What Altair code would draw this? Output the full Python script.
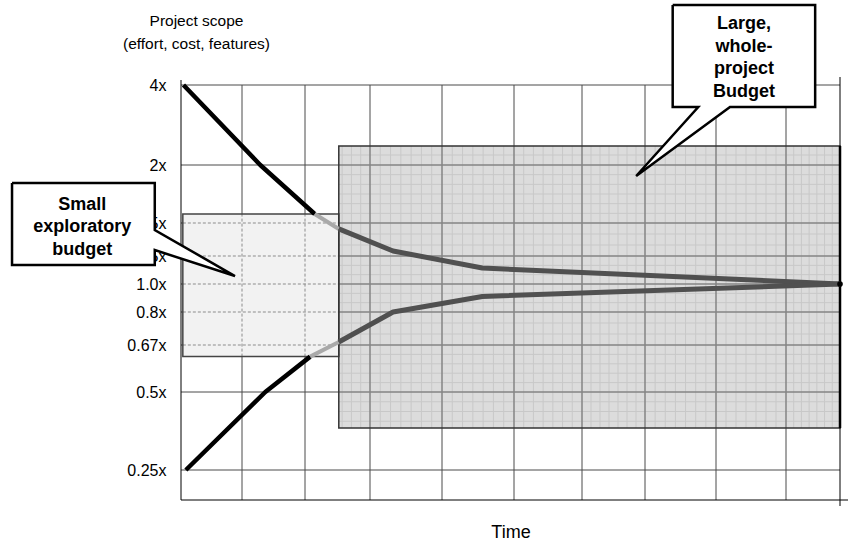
import altair as alt
import pandas as pd

FONT = "Liberation Sans"

# ---------------------------------------------------------------- data
time_steps = list(range(11))
scope_floor = 0.2
scope_ticks = [0.25, 0.5, 0.67, 0.8, 1.0, 1.25, 1.5, 2.0, 4.0]
scope_labels = ["0.25x", "0.5x", "0.67x", "0.8x", "1.0x", "1.25x", "1.5x", "2x", "4x"]

# upper and lower edges of the cone of uncertainty
upper_time = [0.04, 1.29, 2.15, 2.52, 3.32, 4.56, 10.0]
upper_scope = [4.0, 2.0, 1.578, 1.455, 1.288, 1.143, 1.0]
lower_time = [0.08, 1.37, 2.08, 2.52, 3.32, 4.56, 10.0]
lower_scope = [0.25, 0.5, 0.628, 0.682, 0.8, 0.911, 1.0]

# point ranges of each phase along both edges
phase_names = ["early", "exploratory", "project"]
phase_bounds = [(0, 2), (2, 3), (3, 6)]

# budget boxes: time from/to, scope low/high
explore_box = dict(t=0.03, t2=2.52, s=0.628, s2=1.578)
project_box = dict(t=2.52, t2=10.0, s=0.385, s2=2.475)

# callouts: box corners, pointer base and pointer tip (time, scope)
small_note = ["Small", "exploratory", "budget"]
small_box = dict(t=-2.77, t2=-0.43, s=1.17, s2=1.845)
small_base = (1.447, 1.295)          # scope where the pointer leaves the box edge
small_tip = (0.885, 1.071)
small_text_at = (-1.62, 1.467)

large_note = ["Large,", "whole-", "project", "Budget"]
large_box = dict(t=7.39, t2=9.54, s=3.45, s2=6.0)
large_base = (7.75, 8.2)             # time where the pointer leaves the box edge
large_tip = (6.86, 1.905)
large_text_at = (8.4, 4.67)

# ---------------------------------------------------------------- layout
PLOT_W, PLOT_H = 659, 415
# the grid is hand spaced: pixel stop of every time step and scope tick
X_STOPS = [0, 61, 124, 189, 261, 333, 401, 464, 535, 605, 659]
Y_STOPS = [415, 385, 307, 260, 227, 199, 171, 138, 80, 0]
TEXTURE_COLS = 7                          # fine strips per time column
TEXTURE_ROWS = [8, 5, 3, 3, 3, 3, 6, 8]   # fine strips per scope band
NOTE_LINE = 22.5                          # line height of callout text

x_scale = alt.Scale(domain=time_steps, range=X_STOPS, zero=False, nice=False)
y_scale = alt.Scale(domain=[scope_floor] + scope_ticks, range=Y_STOPS,
                    zero=False, nice=False)

label_expr = " : ".join(
    f"datum.value == {v} ? '{l}'" for v, l in zip(scope_ticks, scope_labels)
) + " : ''"

x_axis = alt.Axis(labels=False, ticks=False, domain=False, grid=False,
                  title="Time", titleFont=FONT, titleFontSize=18,
                  titleFontWeight="normal", titleColor="#000",
                  titleBaseline="alphabetic", titleY=37)
y_axis = alt.Axis(values=scope_ticks, labelExpr=label_expr, domain=False,
                  ticks=False, grid=False, labelPadding=15, labelFont=FONT,
                  labelFontSize=16, labelColor="#000", labelOverlap=False,
                  labelFlush=False,
                  title=["Project scope", "(effort, cost, features)"],
                  titleAngle=0, titleAlign="center", titleBaseline="alphabetic",
                  titleX=15, titleY=-60, titleFont=FONT, titleFontSize=15.5,
                  titleFontWeight="normal", titleColor="#000", titleLineHeight=23)


def X():
    return alt.X("t:Q", scale=x_scale, axis=x_axis)


def Y():
    return alt.Y("s:Q", scale=y_scale, axis=y_axis)


def seg_chart(rows, **style):
    return alt.Chart(pd.DataFrame(rows)).mark_rule(**style).encode(
        x=X(), x2="t2:Q", y=Y(), y2="s2:Q")


def vertical(ts, s0, s1):
    return [dict(t=t, t2=t, s=s0, s2=s1) for t in ts]


def horizontal(ss, t0, t1):
    return [dict(t=t0, t2=t1, s=s, s2=s) for s in ss]


def inside(vals, lo, hi):
    return [v for v in vals if lo < v < hi]


def box_rect(box, **style):
    return alt.Chart(pd.DataFrame([box])).mark_rect(**style).encode(
        x=X(), x2="t2:Q", y=Y(), y2="s2:Q")


# ---------------------------------------------------------------- grid
top = scope_ticks[-1]
major_grid = seg_chart(
    vertical(time_steps[1:-1], scope_floor, top)
    + horizontal(scope_ticks, time_steps[0], time_steps[-1]),
    color="#4a4a4a", strokeWidth=1)

explore_fill = box_rect(explore_box, color="#f2f2f2")
explore_grid = seg_chart(
    vertical(inside(time_steps, explore_box["t"], explore_box["t2"]),
             explore_box["s"], explore_box["s2"])
    + horizontal(inside(scope_ticks, explore_box["s"], explore_box["s2"]),
                 explore_box["t"], explore_box["t2"]),
    color="#8c8c8c", strokeWidth=1, strokeDash=[3, 2])

project_fill = box_rect(project_box, color="#dcdcdc")
fine_t = [a + (b - a) * k / TEXTURE_COLS
          for a, b in zip(time_steps[:-1], time_steps[1:])
          for k in range(1, TEXTURE_COLS)]
fine_s = [a + (b - a) * k / n
          for (a, b), n in zip(zip(scope_ticks[:-1], scope_ticks[1:]), TEXTURE_ROWS)
          for k in range(1, n)]
project_texture = seg_chart(
    vertical(inside(fine_t, project_box["t"], project_box["t2"]),
             project_box["s"], project_box["s2"])
    + horizontal(inside(fine_s, project_box["s"], project_box["s2"]),
                 project_box["t"], project_box["t2"]),
    color="#c8c8c8", strokeWidth=1)
project_grid = seg_chart(
    vertical(inside(time_steps, project_box["t"], project_box["t2"]),
             project_box["s"], project_box["s2"])
    + horizontal(inside(scope_ticks, project_box["s"], project_box["s2"]),
                 project_box["t"], project_box["t2"]),
    color="#858585", strokeWidth=1.5)

explore_edge = box_rect(explore_box, fillOpacity=0, stroke="#444", strokeWidth=1.5)
project_edge = box_rect(project_box, fillOpacity=0, stroke="#333", strokeWidth=1.5)

frame = seg_chart(
    vertical([time_steps[0]], scope_floor, 4.125)
    + vertical([time_steps[-1]], 0.19, 4.2)
    + horizontal([scope_floor], time_steps[0], 10.15),
    color="#000", strokeWidth=1)
project_right = seg_chart(
    vertical([project_box["t2"]], project_box["s"], project_box["s2"]),
    color="#000", strokeWidth=2.5)

# ---------------------------------------------------------------- cone
rows = []
for edge, ts, ss in (("upper", upper_time, upper_scope),
                     ("lower", lower_time, lower_scope)):
    for phase, (i0, i1) in zip(phase_names, phase_bounds):
        for i in range(i0, i1 + 1):
            rows.append(dict(edge=edge, phase=phase, i=i, t=ts[i], s=ss[i]))
cone = pd.DataFrame(rows)


def cone_line(phase, **style):
    return alt.Chart(cone).transform_filter(
        alt.datum.phase == phase
    ).mark_line(strokeCap="butt", strokeJoin="round", **style).encode(
        x=X(), y=Y(), detail="edge:N", order="i:Q")


cone_early = cone_line("early", color="#000", strokeWidth=4.5)
cone_explore = cone_line("exploratory", color="#a9a9a9", strokeWidth=4)
cone_project = cone_line("project", color="#505050", strokeWidth=5)
end_dot = alt.Chart(pd.DataFrame([dict(t=upper_time[-1], s=upper_scope[-1])])).mark_circle(
    color="#000", size=32, opacity=1).encode(x=X(), y=Y())


# ---------------------------------------------------------------- callouts
def outline(points):
    pts = points + [points[0]]
    df = pd.DataFrame([dict(k=k, t=t, s=s) for k, (t, s) in enumerate(pts)])
    return alt.Chart(df).mark_line(color="#000", strokeWidth=2.5,
                                   strokeJoin="miter").encode(
        x=X(), y=Y(), order="k:Q")


def note_text(lines, at):
    # the block is centred on its anchor: lift the first line by half the block
    return alt.Chart(pd.DataFrame([dict(t=at[0], s=at[1])])).mark_text(
        text=lines, font=FONT, fontSize=18, fontWeight="bold", color="#000",
        align="center", baseline="middle", lineHeight=NOTE_LINE,
        dy=-(len(lines) - 1) * NOTE_LINE / 2).encode(x=X(), y=Y())


sb = small_box
small_fill = box_rect(sb, color="#fff")
small_pointer = alt.Chart(pd.DataFrame([
    dict(t=sb["t2"], s=small_base[0], s2=small_base[1]),
    dict(t=small_tip[0], s=small_tip[1], s2=small_tip[1]),
])).mark_area(orient="vertical", color="#fff").encode(x=X(), y=Y(), y2="s2:Q")
small_outline = outline([
    (sb["t"], sb["s2"]), (sb["t2"], sb["s2"]), (sb["t2"], small_base[0]),
    small_tip, (sb["t2"], small_base[1]), (sb["t2"], sb["s"]), (sb["t"], sb["s"]),
])

lb = large_box
large_fill = box_rect(lb, color="#fff")
large_pointer = alt.Chart(pd.DataFrame([
    dict(s=lb["s"], t=large_base[0], t2=large_base[1]),
    dict(s=large_tip[1], t=large_tip[0], t2=large_tip[0]),
])).mark_area(orient="horizontal", color="#fff").encode(x=X(), x2="t2:Q", y=Y())
large_outline = outline([
    (lb["t"], lb["s2"]), (lb["t2"], lb["s2"]), (lb["t2"], lb["s"]),
    (large_base[1], lb["s"]), large_tip, (large_base[0], lb["s"]), (lb["t"], lb["s"]),
])

chart = alt.layer(
    major_grid,
    explore_fill, explore_grid,
    project_fill, project_texture, project_grid,
    explore_edge, project_edge, frame, project_right,
    cone_early, cone_explore, cone_project, end_dot,
    small_fill, small_pointer, small_outline, note_text(small_note, small_text_at),
    large_fill, large_pointer, large_outline, note_text(large_note, large_text_at),
).properties(
    width=PLOT_W, height=PLOT_H,
    padding={"left": 181, "top": 85, "right": 8, "bottom": 42},
    autosize=alt.AutoSizeParams(type="none"),
    background="#fff",
).configure_view(stroke="transparent")

chart.save("out.html", embed_options={"renderer": "svg", "actions": False})
